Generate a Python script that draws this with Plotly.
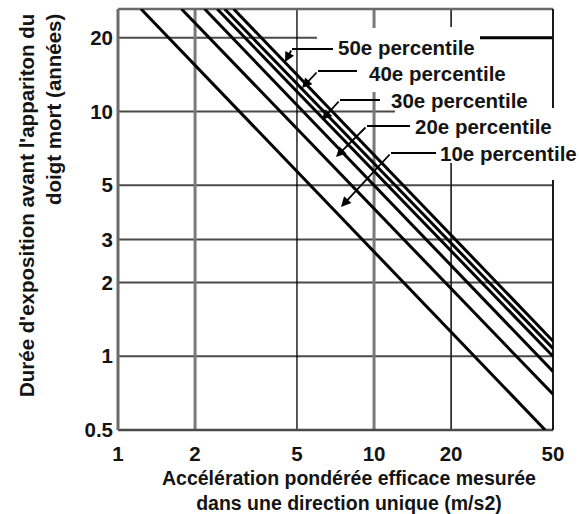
import math
import plotly.graph_objects as go

# ---------------- data ----------------
line_names = ["10e percentile", "20e percentile", "courbe intermédiaire",
              "30e percentile", "40e percentile", "50e percentile"]
x_start = [1.23, 1.77, 2.18, 2.44, 2.61, 2.83]
y_start = [26.2, 26.2, 26.2, 26.2, 26.2, 26.2]
x_end = [46.6, 50.0, 50.0, 50.0, 50.0, 50.0]
y_end = [0.5, 0.70, 0.867, 1.0, 1.076, 1.154]

x_ticks = [1, 2, 5, 10, 20, 50]
x_ticktext = ["1", "2", "5", "10", "20", "50"]
y_ticks = [0.5, 1, 2, 3, 5, 10, 20]
y_ticktext = ["0.5", "1", "2", "3", "5", "10", "20"]

label_texts = ["50e percentile", "40e percentile", "30e percentile",
               "20e percentile", "10e percentile"]

x_title = "Accélération pondérée efficace mesurée<br>dans une direction unique (m/s2)"
y_title = "Durée d'exposition avant l'appariton du<br>doigt mort (années)"

# ---------------- layout geometry ----------------
W, H = 579, 514
L, R, T, B = 118, 553, 9, 430
PW, PH = R - L, B - T
X_MAX = 50
Y_MIN, Y_MAX = 0.5, 26.2

FONT = "Liberation Sans, Arial, sans-serif"
FS = 20.5
TXT = "#141414"


def px(xp):
    return (xp - L) / PW


def py(yp):
    return (B - yp) / PH


def tfont(size=FS):
    return dict(family=FONT, size=size, color=TXT, weight="bold")


fig = go.Figure()
for i in range(len(line_names)):
    fig.add_trace(go.Scatter(
        x=[x_start[i], x_end[i]], y=[y_start[i], y_end[i]],
        mode="lines", name=line_names[i],
        line=dict(color="black", width=3), showlegend=False,
        hoverinfo="skip"))

shapes = []


def hseg(val, x0p, x1p, color, width):
    shapes.append(dict(type="line", xref="paper", yref="y",
                       x0=px(x0p), x1=px(x1p), y0=val, y1=val,
                       line=dict(color=color, width=width), layer="below"))


def vseg(val, y0p, y1p, color, width):
    shapes.append(dict(type="line", xref="x", yref="paper",
                       x0=val, x1=val, y0=py(y0p), y1=py(y1p),
                       line=dict(color=color, width=width), layer="below"))


GRID_H = "#4a4a4a"
# horizontal grid lines
for v in [1, 2, 3, 5]:
    hseg(v, L, R, GRID_H, 2)
hseg(10, L, 395, GRID_H, 2)
hseg(20, L, 317, GRID_H, 2)
# thick short segment on the 20 line at the right
hseg(20, 480, R, "black", 3)

# vertical grid lines
vseg(2, T, B, "#7a7a7a", 3)
vseg(5, T, B, "black", 1.3)
vseg(10, T, 28, "#7a7a7a", 3)
vseg(10, 92, B, "#7a7a7a", 3)
vseg(20, T, 27, "#1a1a1a", 1.6)
vseg(20, 163, B, "#1a1a1a", 1.6)

# frame
shapes.append(dict(type="line", xref="paper", yref="paper", x0=0, x1=1, y0=1, y1=1,
                   line=dict(color="#6a6a6a", width=2.5), layer="below"))
shapes.append(dict(type="line", xref="paper", yref="paper", x0=0, x1=1, y0=0, y1=0,
                   line=dict(color="#4a4a4a", width=2.5), layer="below"))
shapes.append(dict(type="line", xref="paper", yref="paper", x0=0, x1=0, y0=0, y1=1,
                   line=dict(color="#6a6a6a", width=3), layer="below"))
shapes.append(dict(type="line", xref="paper", yref="paper", x0=1, x1=1, y0=py(T), y1=py(108),
                   line=dict(color="#1a1a1a", width=2), layer="below"))
shapes.append(dict(type="line", xref="paper", yref="paper", x0=1, x1=1, y0=py(180), y1=py(B),
                   line=dict(color="#1a1a1a", width=2), layer="below"))

# leader lines: bend point, horizontal end, arrow tip, label anchor (pixels)
leaders = [
    (292, 49, 333, 285, 62, 336, 48),
    (318, 71, 357, 302, 88, 367, 74),
    (340, 100, 380, 322, 120, 389, 100),
    (367, 126, 410, 336, 157, 413, 126),
    (391, 153, 436, 341, 207, 438, 153),
]

annotations = []
for (bx, by, ex, tx, ty, lx, ly), txt in zip(leaders, label_texts):
    shapes.append(dict(type="line", xref="paper", yref="paper",
                       x0=px(bx), x1=px(ex), y0=py(by), y1=py(by),
                       line=dict(color="black", width=1.8)))
    annotations.append(dict(xref="paper", yref="paper", x=px(tx), y=py(ty),
                            ax=bx - tx, ay=by - ty, axref="pixel", ayref="pixel",
                            text="", showarrow=True, arrowhead=2, arrowsize=1.1,
                            arrowwidth=1.8, arrowcolor="black", standoff=0))
    annotations.append(dict(xref="paper", yref="paper", x=px(lx), y=py(ly),
                            xanchor="left", yanchor="middle", showarrow=False,
                            text=txt, font=tfont()))

# axis titles
annotations.append(dict(xref="paper", yref="paper", x=px(349), y=py(490.5),
                        xanchor="center", yanchor="middle", showarrow=False,
                        align="center", text=x_title, font=tfont(19.5)))
annotations.append(dict(xref="paper", yref="paper", x=px(40), y=py(206),
                        xanchor="center", yanchor="middle", showarrow=False,
                        textangle=-90, align="right",
                        text=y_title, font=tfont()))

fig.update_layout(
    width=W, height=H,
    margin=dict(l=L, r=W - R, t=T, b=H - B, pad=0, autoexpand=False),
    paper_bgcolor="white", plot_bgcolor="white",
    showlegend=False,
    shapes=shapes, annotations=annotations,
    xaxis=dict(type="log", range=[0, math.log10(X_MAX)],
               tickvals=x_ticks, ticktext=x_ticktext, ticks="",
               showgrid=False, zeroline=False, showline=False,
               ticklabelstandoff=9,
               tickfont=tfont()),
    yaxis=dict(type="log", range=[math.log10(Y_MIN), math.log10(Y_MAX)],
               tickvals=y_ticks, ticktext=y_ticktext, ticks="",
               showgrid=False, zeroline=False, showline=False,
               ticklabelstandoff=4,
               tickfont=tfont()),
)

fig.write_html("out.html", config={"displayModeBar": False},
               post_script="document.body.style.margin='0px';")
